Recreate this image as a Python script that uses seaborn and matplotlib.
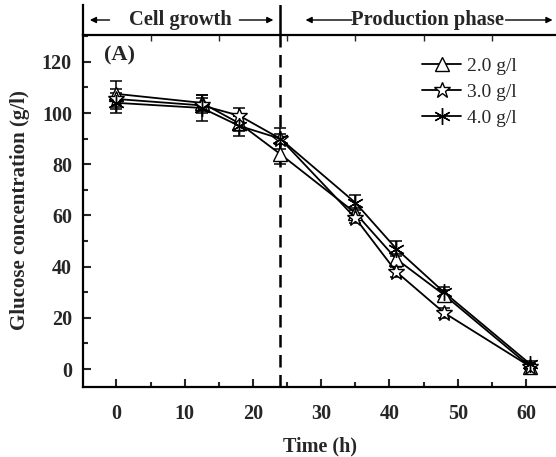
import numpy as np
import pandas as pd
import matplotlib
matplotlib.use("Agg")
import matplotlib.pyplot as plt
import seaborn as sns
from matplotlib.ticker import MultipleLocator

# Sampling times (h)
time_h = [0, 12.5, 18, 24, 35, 41, 48, 60.6]

# Glucose concentration (g/l) for each initial level, with standard deviations
glc_2 = [107.5, 104, 96, 84, 61, 43, 29, 1]
err_2 = [5, 3, 3, 4, 2, 2, 2, 1]
glc_3 = [105.5, 103, 99, 90, 59, 38, 22, 1]
err_3 = [4, 3, 3, 2, 2, 2, 2, 1]
glc_4 = [104, 102, 95, 90, 65, 47, 30, 2]
err_4 = [4, 5, 4, 4, 3, 3, 2, 1]

series_labels = ["2.0 g/l", "3.0 g/l", "4.0 g/l"]
y_ticks = [0, 20, 40, 60, 80, 100, 120]
x_ticks = [0, 10, 20, 30, 40, 50, 60]
phase_boundary = 24

rows = []
for lab, ys, es in zip(series_labels, [glc_2, glc_3, glc_4], [err_2, err_3, err_4]):
    for t, y, e in zip(time_h, ys, es):
        rows.append({"Time": t, "Glucose": y, "err": e, "Level": lab})
df = pd.DataFrame(rows)

sns.set_theme(style="ticks")
plt.rcParams["font.family"] = ["Liberation Serif", "DejaVu Serif"]

W, H = 556, 457
fig = plt.figure(figsize=(W / 100, H / 100), dpi=100)
ax = fig.add_axes([83 / W, (H - 387) / H, (W - 83) / W, 352 / H])
hx = fig.add_axes([83 / W, (H - 35) / H, (W - 83) / W, 30 / H], sharex=ax)

markers = {"2.0 g/l": "^", "3.0 g/l": "*", "4.0 g/l": (6, 2, 0)}
msize = {"2.0 g/l": 10, "3.0 g/l": 12, "4.0 g/l": 12}

for lab in series_labels:
    sub = df[df["Level"] == lab]
    ax.errorbar(sub["Time"], sub["Glucose"], yerr=sub["err"], fmt="none",
                ecolor="black", elinewidth=1.1, capsize=4, capthick=1.1, zorder=2)

for lab in series_labels:
    sub = df[df["Level"] == lab]
    sns.lineplot(data=sub, x="Time", y="Glucose", marker=markers[lab],
                 markersize=msize[lab], color="black", linewidth=1.3, ax=ax,
                 label=lab, markerfacecolor="white", markeredgecolor="black",
                 markeredgewidth=1.0, zorder=3)

ax.axvline(phase_boundary, color="black", linestyle=(0, (5, 3)), linewidth=1.8, zorder=1)

ax.set_xlim(-4.9, 64.4)
ax.set_ylim(-7, 130.5)
ax.set_xticks(x_ticks)
ax.set_yticks(y_ticks)
ax.xaxis.set_minor_locator(MultipleLocator(5))
ax.yaxis.set_minor_locator(MultipleLocator(10))
ax.tick_params(which="major", direction="in", length=6, width=1.5, labelsize=14.5)
ax.tick_params(which="minor", direction="in", length=3.5, width=1.5)
ax.tick_params(axis="x", which="major", pad=12)
ax.tick_params(axis="y", which="major", pad=8)
ax.tick_params(axis="both", which="both", right=False, top=False)
for t in ax.get_xticklabels() + ax.get_yticklabels():
    t.set_fontweight("bold")

for side in ["left", "bottom", "top"]:
    ax.spines[side].set_linewidth(1.6)
    ax.spines[side].set_color("black")
ax.spines["right"].set_visible(False)

ax.set_xlabel("Time (h)", fontsize=14.5, fontweight="bold")
ax.set_ylabel("Glucose concentration (g/l)", fontsize=15, fontweight="bold")
ax.xaxis.set_label_coords(0.501, -0.141)
ax.yaxis.set_label_coords(-0.112, 0.503)

ax.text(0.044, 0.943, "(A)", transform=ax.transAxes, fontsize=16,
        fontweight="bold", va="center", ha="left")

handles, labels = ax.get_legend_handles_labels()
leg = ax.legend(handles, labels, loc="upper left", bbox_to_anchor=(0.717, 0.936),
                frameon=False, fontsize=14, handlelength=2.0, handletextpad=0.3,
                labelspacing=0.42, borderpad=0, borderaxespad=0)

# Header band with phase annotations
hx.set_ylim(0, 1)
hx.axvline(phase_boundary, color="black", linewidth=1.8)
for side in ["right", "top", "bottom"]:
    hx.spines[side].set_visible(False)
hx.spines["left"].set_linewidth(1.6)
hx.spines["left"].set_color("black")
hx.tick_params(left=False, bottom=False, labelleft=False, labelbottom=False)
hx.patch.set_alpha(0)
hx.grid(False)

arrow = dict(arrowstyle="-|>", color="black", lw=1.0, mutation_scale=9)
yc = 0.5
hx.text(9.3, yc, "Cell growth", fontsize=14.8, fontweight="bold", ha="center", va="center")
hx.annotate("", xy=(-4.3, yc), xytext=(-0.6, yc), arrowprops=arrow)
hx.annotate("", xy=(23.4, yc), xytext=(17.6, yc), arrowprops=arrow)
hx.text(45.6, yc, "Production phase", fontsize=14.8, fontweight="bold", ha="center", va="center")
hx.annotate("", xy=(27.3, yc), xytext=(34.9, yc), arrowprops=arrow)
hx.annotate("", xy=(64.3, yc), xytext=(56.6, yc), arrowprops=arrow)

fig.savefig("out.png", dpi=100)
